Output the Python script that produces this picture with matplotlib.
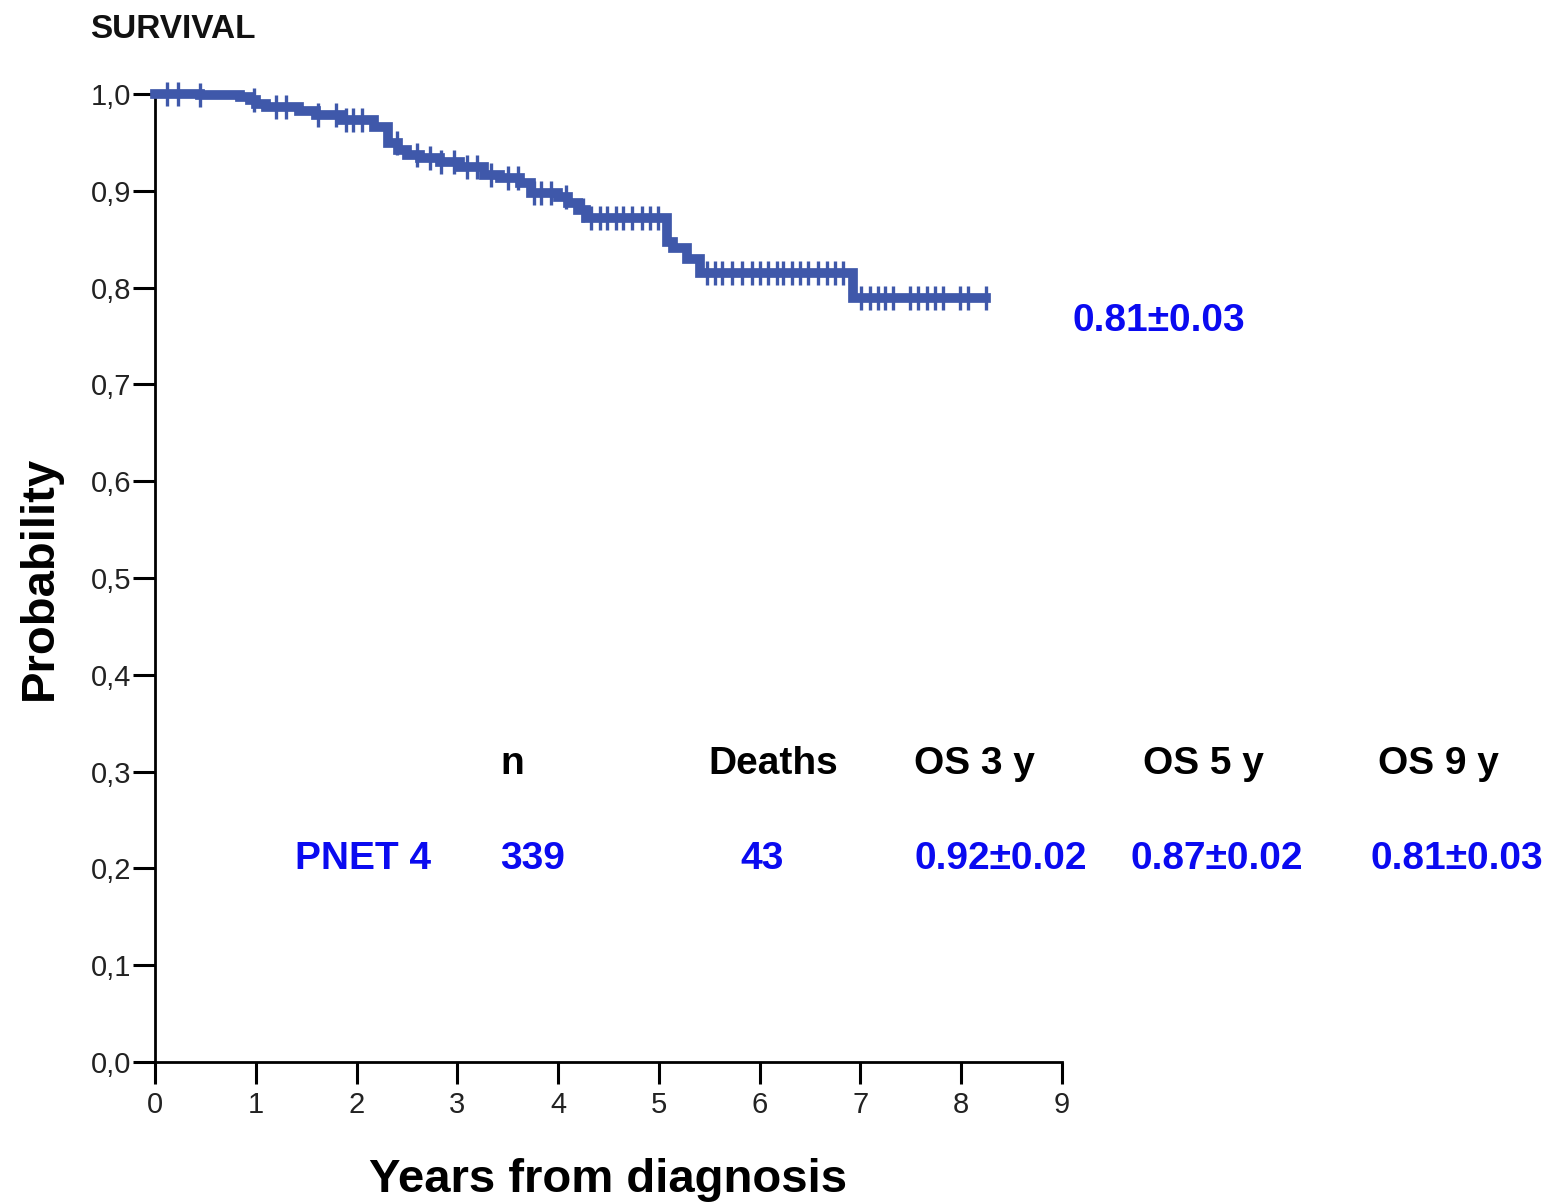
import numpy as np
import matplotlib
matplotlib.use("Agg")
import matplotlib.pyplot as plt

# ---- data ----
event_times = [0.0, 0.45, 0.84, 0.94, 1.0, 1.1, 1.43, 1.6, 1.85, 2.17, 2.31, 2.41, 2.5,
               2.63, 2.83, 3.03, 3.26, 3.42, 3.62, 3.73, 4.0, 4.1, 4.2, 4.28, 5.08,
               5.14, 5.28, 5.41, 6.93]
survival = [1.0, 0.999, 0.997, 0.994, 0.99, 0.987, 0.982, 0.978, 0.973, 0.966, 0.949,
            0.942, 0.937, 0.934, 0.930, 0.925, 0.916, 0.913, 0.908, 0.898, 0.894, 0.887,
            0.880, 0.872, 0.847, 0.841, 0.830, 0.815, 0.789]
last_followup = 8.25
censor_times = [0.12, 0.23, 0.45, 0.98, 1.2, 1.3, 1.62, 1.8, 1.9, 1.96, 2.05, 2.4, 2.6,
                2.73, 2.84, 2.97, 3.1, 3.2, 3.33, 3.5, 3.6, 3.76, 3.83, 3.93, 4.08, 4.25,
                4.33, 4.42, 4.49, 4.57, 4.64, 4.73, 4.83, 4.91, 4.99,
                5.48, 5.56, 5.63, 5.73, 5.82, 5.92, 6.0, 6.08, 6.17, 6.23, 6.32, 6.40,
                6.48, 6.58, 6.67, 6.75, 6.83,
                7.01, 7.09, 7.17, 7.24, 7.32, 7.49, 7.57, 7.66, 7.74, 7.82, 7.99, 8.07, 8.25]

x_ticks = list(range(0, 10))
y_ticks = [0.0, 0.1, 0.2, 0.3, 0.4, 0.5, 0.6, 0.7, 0.8, 0.9, 1.0]
y_tick_labels = ["0,0", "0,1", "0,2", "0,3", "0,4", "0,5", "0,6", "0,7", "0,8", "0,9", "1,0"]

table_headers = ["n", "Deaths", "OS 3 y", "OS 5 y", "OS 9 y"]
group_name = "PNET 4"
group_values = ["339", "43", "0.92\u00b10.02", "0.87\u00b10.02", "0.81\u00b10.03"]
end_label = "0.81\u00b10.03"

# ---- style ----
W, H = 1556, 1204
curve_color = "#3F58AA"
text_blue = "#0A0AF0"
font_main = ["Liberation Sans", "DejaVu Sans"]
font_narrow = ["Liberation Sans Narrow", "Liberation Sans", "DejaVu Sans"]

fig = plt.figure(figsize=(W / 100, H / 100), dpi=100)
ax = fig.add_axes([155 / W, 1 - 1062 / H, (1062 - 155) / W, (1062 - 94) / H])

t = np.array(event_times + [last_followup])
s = np.array(survival + [survival[-1]])
ax.step(t, s, where="post", color=curve_color, lw=7, clip_on=False,
        solid_joinstyle="miter", zorder=3)

ct = np.array(censor_times)
idx = np.searchsorted(np.array(event_times), ct, side="right") - 1
cs = np.array(survival)[idx]
ax.plot(ct, cs, ls="none", marker="|", ms=17, mew=2.4, color=curve_color,
        clip_on=False, zorder=4)

ax.set_xlim(0, 9)
ax.set_ylim(0, 1)
ax.set_xticks(x_ticks)
ax.set_xticklabels([str(v) for v in x_ticks], family=font_narrow, fontsize=21,
                   color="#222222")
ax.set_yticks(y_ticks)
ax.set_yticklabels(y_tick_labels, family=font_narrow, fontsize=21, color="#222222")
ax.tick_params(axis="both", direction="out", length=16, width=2.2, color="black")
ax.tick_params(axis="y", pad=1)
ax.tick_params(axis="x", pad=5)
for sp in ["top", "right"]:
    ax.spines[sp].set_visible(False)
for sp in ["left", "bottom"]:
    ax.spines[sp].set_linewidth(2.0)

def fx(px):
    return px / W

def fy(py):
    return 1 - py / H

fig.text(fx(90), fy(38), "SURVIVAL", family=font_main, fontsize=24, fontweight="bold",
         ha="left", va="baseline", color="#111111")
fig.text(fx(40), fy(578), "Probability", family=font_main, fontsize=34, fontweight="bold",
         rotation=90, ha="center", va="center")
fig.text(fx(608), fy(1180), "Years from diagnosis", family=font_main, fontsize=34,
         fontweight="bold", ha="center", va="center")

header_x = [500, 708, 914, 1143, 1378]
for hx, lab in zip(header_x, table_headers):
    fig.text(fx(hx), fy(774), lab, family=font_main, fontsize=28, fontweight="bold",
             ha="left", va="baseline", color="black")

fig.text(fx(295), fy(869), group_name, family=font_main, fontsize=28, fontweight="bold",
         ha="left", va="baseline", color=text_blue)
value_x = [500, 740, 914, 1131, 1370]
for vx, lab in zip(value_x, group_values):
    fig.text(fx(vx), fy(869), lab, family=font_main, fontsize=28, fontweight="bold",
             ha="left", va="baseline", color=text_blue)

fig.text(fx(1072), fy(331), end_label, family=font_main, fontsize=28, fontweight="bold",
         ha="left", va="baseline", color=text_blue)

fig.savefig("out.png", dpi=100)
